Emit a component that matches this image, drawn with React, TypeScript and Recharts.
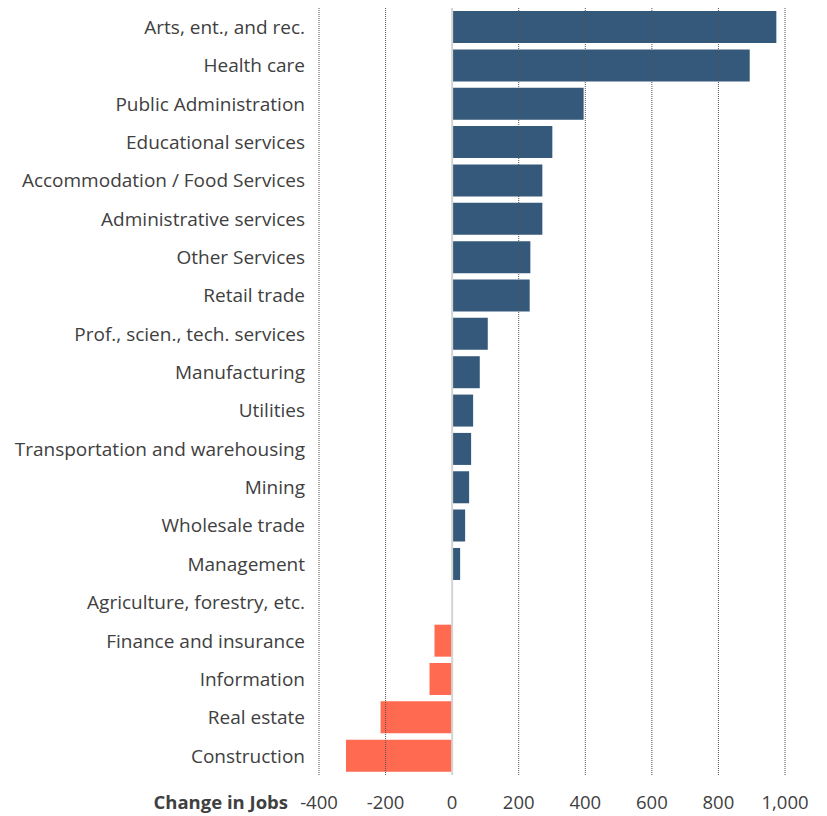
import React from "react";
import {
  BarChart,
  Bar,
  XAxis,
  YAxis,
  Cell,
  ReferenceLine,
} from "recharts";

const industries = [
  "Arts, ent., and rec.",
  "Health care",
  "Public Administration",
  "Educational services",
  "Accommodation / Food Services",
  "Administrative services",
  "Other Services",
  "Retail trade",
  "Prof., scien., tech. services",
  "Manufacturing",
  "Utilities",
  "Transportation and warehousing",
  "Mining",
  "Wholesale trade",
  "Management",
  "Agriculture, forestry, etc.",
  "Finance and insurance",
  "Information",
  "Real estate",
  "Construction",
];

const jobChange = [
  974, 894, 395, 301, 271, 271, 235, 233, 107, 83,
  63, 57, 51, 39, 24, 1, -53, -68, -215, -319,
];

const xTicks = [-400, -200, 0, 200, 400, 600, 800, 1000];
const gridTicks = [-400, -200, 200, 400, 600, 800, 1000];

const POS = "#34597A";
const NEG = "#FF6A50";
const FONT = "'Open Sans', 'Liberation Sans', sans-serif";

const data = industries.map((name, i) => ({ name, value: jobChange[i] }));

const fmt = (v: number) => v.toLocaleString("en-US");

export default function App() {
  return (
    <div style={{ position: "absolute", left: 0, top: 0, background: "#fff" }}>
      <BarChart
        width={827}
        height={816}
        data={data}
        layout="vertical"
        margin={{ top: 8, right: 42, left: 0, bottom: 0 }}
        barCategoryGap="8%"
      >
        <XAxis
          type="number"
          domain={[-400, 1000]}
          ticks={xTicks}
          tickFormatter={fmt}
          axisLine={false}
          tickLine={false}
          height={41}
          tickMargin={15}
          tick={{ fontSize: 18.5, fill: "#404040", fontFamily: FONT }}
          label={({ viewBox }: any) => (
            <text
              x={viewBox.x - 31}
              y={viewBox.y + 34}
              textAnchor="end"
              fontSize={18.5}
              fontWeight="bold"
              fill="#404040"
              fontFamily={FONT}
            >
              Change in Jobs
            </text>
          )}
        />
        <YAxis
          type="category"
          dataKey="name"
          width={319}
          axisLine={false}
          tickLine={false}
          tickMargin={8}
          interval={0}
          tick={{ fontSize: 19, fill: "#404040", fontFamily: FONT }}
        />
        <ReferenceLine x={0} stroke="#d4d4d4" strokeWidth={2} />
        <Bar dataKey="value" isAnimationActive={false}>
          {data.map((d, i) => (
            <Cell key={i} fill={d.value < 0 ? NEG : POS} />
          ))}
        </Bar>
        {gridTicks.map((t) => (
          <ReferenceLine
            key={t}
            x={t}
            stroke="#555555"
            strokeWidth={1}
            strokeDasharray="1 1"
          />
        ))}
      </BarChart>
    </div>
  );
}
